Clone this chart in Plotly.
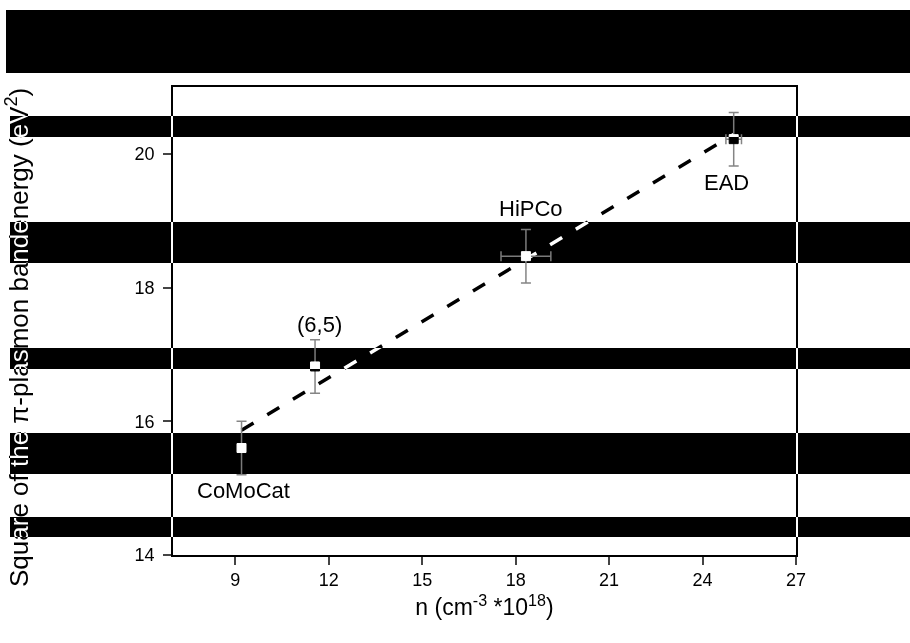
import numpy as np
import plotly.graph_objects as go

# ---- data ----
samples = ["CoMoCat", "(6,5)", "HiPCo", "EAD"]
n_density = [9.2, 11.56, 18.33, 25.0]          # n (cm^-3 * 10^18)
n_err = [np.nan, np.nan, 0.8, 0.25]
energy_sq = [15.60, 16.82, 18.47, 20.22]       # (eV^2)
energy_err = [0.4, 0.4, 0.4, 0.4]
x_ticks = [9, 12, 15, 18, 21, 24, 27]
y_ticks = [14, 16, 18, 20]

# label offsets (pixels) relative to each point
label_dx = [2, 4, 5, -7]
label_dy = [-42, 42, 48, -43]

# linear fit through the points (dashed line)
coef = np.polyfit(n_density, energy_sq, 1)
fit_x = [min(n_density), max(n_density)]
fit_y = list(np.polyval(coef, fit_x))

W, H = 910, 643
ML, MR, MT, MB = 173, 114, 87, 88
PW, PH = W - ML - MR, H - MT - MB

# horizontal black bands (pixel rows) present in the reference image
bands = [(6, 10, 73), (10, 116, 137), (10, 222, 263), (10, 348, 369),
         (10, 433, 474), (10, 517, 537)]

FONT = "Liberation Sans, Arial, sans-serif"

fig = go.Figure()
fig.add_trace(go.Scatter(
    x=fit_x, y=fit_y, mode="lines",
    line=dict(color="black", width=3.5, dash="14px,16px"),
    hoverinfo="skip", showlegend=False))
fig.add_trace(go.Scatter(
    x=n_density, y=energy_sq, mode="markers",
    marker=dict(symbol="square", size=9, color="black",
                line=dict(color="black", width=1)),
    error_y=dict(type="data", array=energy_err, color="#858585",
                 thickness=1.5, width=5),
    error_x=dict(type="data", array=n_err, color="#858585",
                 thickness=1.5, width=5),
    showlegend=False))

for s, x, y, dx, dy in zip(samples, n_density, energy_sq, label_dx, label_dy):
    fig.add_annotation(x=x, y=y, text=s, showarrow=False, xshift=dx, yshift=dy,
                       font=dict(family=FONT, size=22, color="black"))

# y-axis title placed as rotated text (reference centre sits a bit below plot centre)
fig.add_annotation(xref="paper", yref="paper", x=(17 - ML) / PW, y=(H - MB - 337) / PH,
                   xanchor="center", yanchor="middle", textangle=-90, showarrow=False,
                   text="Square of the \u03c0-plasmon bandenergy (eV<sup>2</sup>)",
                   font=dict(family=FONT, size=26, color="black"))

for x0, y0, y1 in bands:
    fig.add_shape(type="rect", xref="paper", yref="paper",
                  x0=(x0 - ML) / PW, x1=(W + 5 - ML) / PW,
                  y0=(H - MB - y1) / PH, y1=(H - MB - y0) / PH,
                  fillcolor="black", line=dict(width=0), layer="above")

fig.update_layout(
    width=W, height=H,
    margin=dict(l=ML, r=MR, t=MT, b=MB, pad=0),
    paper_bgcolor="white", plot_bgcolor="white",
    font=dict(family=FONT, size=18, color="black"),
    xaxis=dict(range=[7, 27], tickvals=x_ticks, ticks="outside", ticklen=8,
               tickwidth=1.5, showline=True, linewidth=1.5, linecolor="black",
               mirror=True, showgrid=False, zeroline=False,
               tickfont=dict(size=18),
               title=dict(text="n (cm<sup>-3</sup> *10<sup>18</sup>)",
                          font=dict(size=23), standoff=10)),
    yaxis=dict(range=[14, 21], tickvals=y_ticks, ticks="outside", ticklen=8,
               tickwidth=1.5, showline=True, linewidth=1.5, linecolor="black",
               mirror=True, showgrid=False, zeroline=False,
               tickfont=dict(size=18), ticklabelstandoff=5),
)

# The bands in the reference invert what lies under them: draw them as
# white shapes blended with 'difference', with the text layer placed beneath.
post = """
(function(){
var gd = document.getElementById('{plot_id}');
document.body.style.margin = '0';
var above = gd.querySelector('.main-svg .layer-above');
var il = gd.querySelector('.infolayer');
if (above && il) { above.parentNode.insertBefore(il, above); }
gd.querySelectorAll('.layer-above .shapelayer path').forEach(function(p){
  p.style.fill = '#ffffff'; p.style.mixBlendMode = 'difference';
});
})();
"""

fig.write_html("out.html", post_script=post, config={"displayModeBar": False})
